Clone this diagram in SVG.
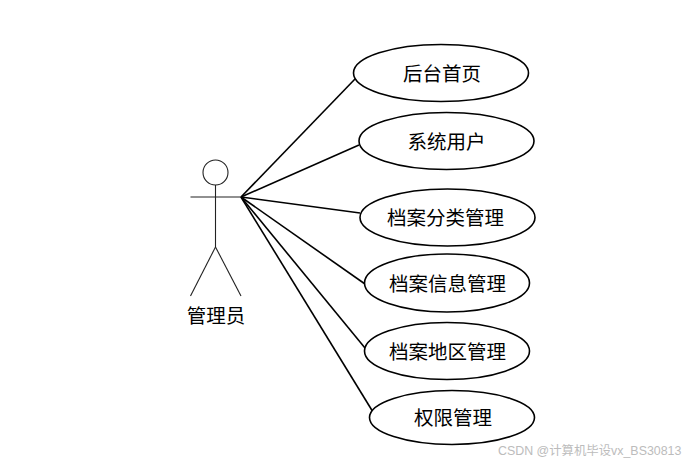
<svg xmlns="http://www.w3.org/2000/svg" width="700" height="463" viewBox="0 0 700 463">
<style>
text{font-family:"Noto Sans CJK SC","Liberation Sans",sans-serif;font-size:19.5px;fill:#000;text-anchor:middle}
.u{fill:#fff;stroke:#000;stroke-width:1.6}
.c{stroke:#000;stroke-width:1.6;fill:none}
.a{stroke:#222;stroke-width:1.1;fill:none}
.w{font-family:"Liberation Sans","Noto Sans CJK SC",sans-serif;font-size:12.400px;fill:#bcbcbc;text-anchor:start}
</style>
<rect width="700" height="463" fill="#fff"/>
<g id="connectors">
<line class="c" x1="241" y1="197" x2="355" y2="79"/>
<line class="c" x1="241" y1="197" x2="359" y2="145"/>
<line class="c" x1="241" y1="197" x2="360" y2="213"/>
<line class="c" x1="241" y1="197" x2="365" y2="284"/>
<line class="c" x1="241" y1="197" x2="365" y2="348"/>
<line class="c" x1="241" y1="197" x2="373" y2="412"/>
</g>
<g id="actor">
<circle class="a" cx="215.500" cy="172.500" r="12.500"/>
<line class="a" x1="215.500" y1="185" x2="215.500" y2="247"/>
<line class="a" x1="190.500" y1="197" x2="241" y2="197"/>
<line class="a" x1="215.500" y1="247" x2="190.500" y2="296"/>
<line class="a" x1="215.500" y1="247" x2="241" y2="296"/>
<text x="216" y="323">管理员</text>
</g>
<g id="uc1"><ellipse class="u" cx="441" cy="73" rx="87.500" ry="28.500"/><text x="442" y="81">后台首页</text></g>
<g id="uc2"><ellipse class="u" cx="446.500" cy="141" rx="87.500" ry="28.500"/><text x="446.500" y="149">系统用户</text></g>
<g id="uc3"><ellipse class="u" cx="447.500" cy="217.500" rx="87.500" ry="28.500"/><text x="445.500" y="225">档案分类管理</text></g>
<g id="uc4"><ellipse class="u" cx="447" cy="283" rx="82.500" ry="29"/><text x="447.500" y="291">档案信息管理</text></g>
<g id="uc5"><ellipse class="u" cx="447" cy="351" rx="82.500" ry="28.500"/><text x="447.500" y="359">档案地区管理</text></g>
<g id="uc6"><ellipse class="u" cx="452" cy="417.500" rx="82.500" ry="27"/><text x="453" y="425">权限管理</text></g>
<text class="w" x="498" y="455">CSDN @计算机毕设vx_BS30813</text>
</svg>
